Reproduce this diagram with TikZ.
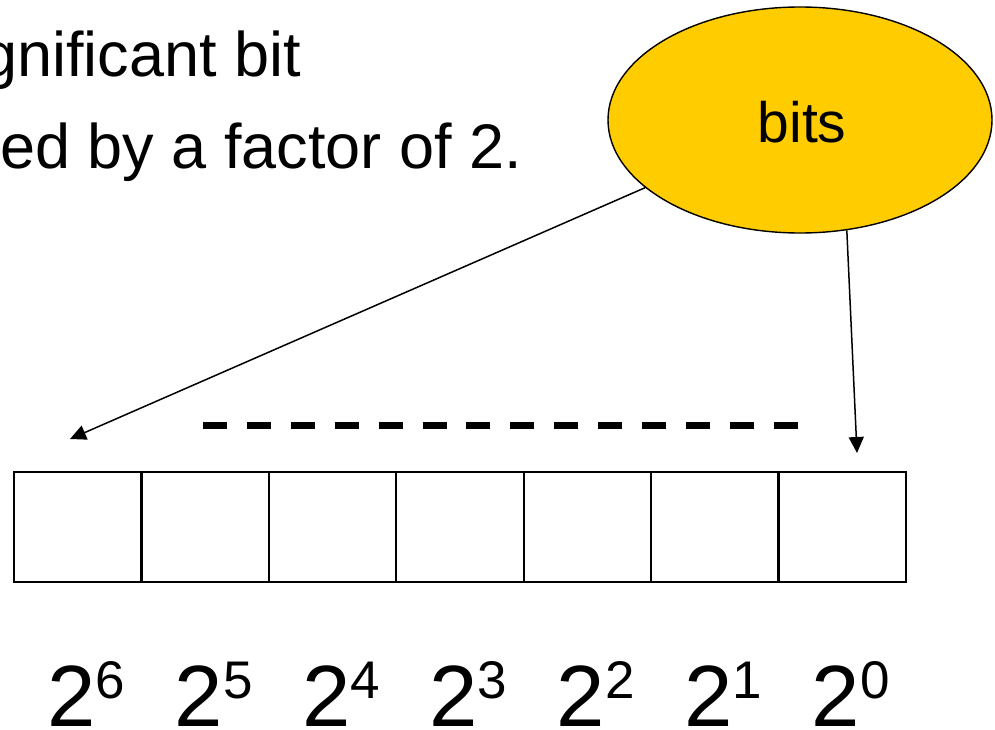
\documentclass[tikz,border=0pt]{standalone}
\usepackage{fontspec}
\setmainfont{Liberation Sans}
\usetikzlibrary{shapes.geometric,arrows.meta}
\definecolor{bitsyellow}{HTML}{FFCC00}
\tikzset{
  bigtext/.style={inner sep=0pt, font=\fontsize{63}{63}\selectfont},
  cell/.style={draw, line width=2.3pt, minimum width=127.43pt, minimum height=110pt, inner sep=0pt},
  bubble/.style={ellipse, draw, line width=1.4pt, fill=bitsyellow, minimum width=384pt, minimum height=226pt, inner sep=0pt, font=\fontsize{57}{57}\selectfont},
  arr/.style={line width=1.5pt, -{Triangle[length=16pt,width=15pt]}},
  dashbar/.style={line width=7pt, dash pattern=on 24pt off 19.9pt},
  powlabel/.style={inner sep=0pt, anchor=base west}
}
\newcommand{\pw}[1]{\fontsize{87}{87}\selectfont 2\raisebox{28pt}{\fontsize{53}{53}\selectfont #1}}
\begin{document}
\begin{tikzpicture}[x=1pt,y=-1pt]
\useasboundingbox (0,0) rectangle (995,730);
% top text
\node[bigtext, anchor=base east] (line1) at (301,77) {gnificant bit};
\node[bigtext, anchor=base west] (line2) at (0,169) {ed by a factor of 2.};
% bubble
\node[bubble] (bits) at (800,120) {};
\node[inner sep=0pt, font=\fontsize{57}{57}\selectfont] (bitslabel) at (802,122) {bits};
% cells
\foreach \i in {0,...,6} {
  \node[cell] (c\i) at ({77.71+\i*127.43},527) {};
}
% dashed bar
\coordinate (d1) at (203,425);
\coordinate (d2) at (798,425);
\draw[dashbar] (d1) -- (d2);
% arrows
\coordinate (t6) at (70,439);
\coordinate (t0) at (857,453);
\draw[arr] (bits) -- (t6);
\draw[arr] (bits.-67) -- (t0);
% labels
\node[powlabel] (l6) at ({47+0*127.43},726) {\pw{6}};
\node[powlabel] (l5) at ({47+1*127.43},726) {\pw{5}};
\node[powlabel] (l4) at ({47+2*127.43},726) {\pw{4}};
\node[powlabel] (l3) at ({47+3*127.43},726) {\pw{3}};
\node[powlabel] (l2) at ({47+4*127.43},726) {\pw{2}};
\node[powlabel] (l1) at ({47+5*127.43},726) {\pw{1}};
\node[powlabel] (l0) at ({47+6*127.43},726) {\pw{0}};
\end{tikzpicture}
\end{document}
